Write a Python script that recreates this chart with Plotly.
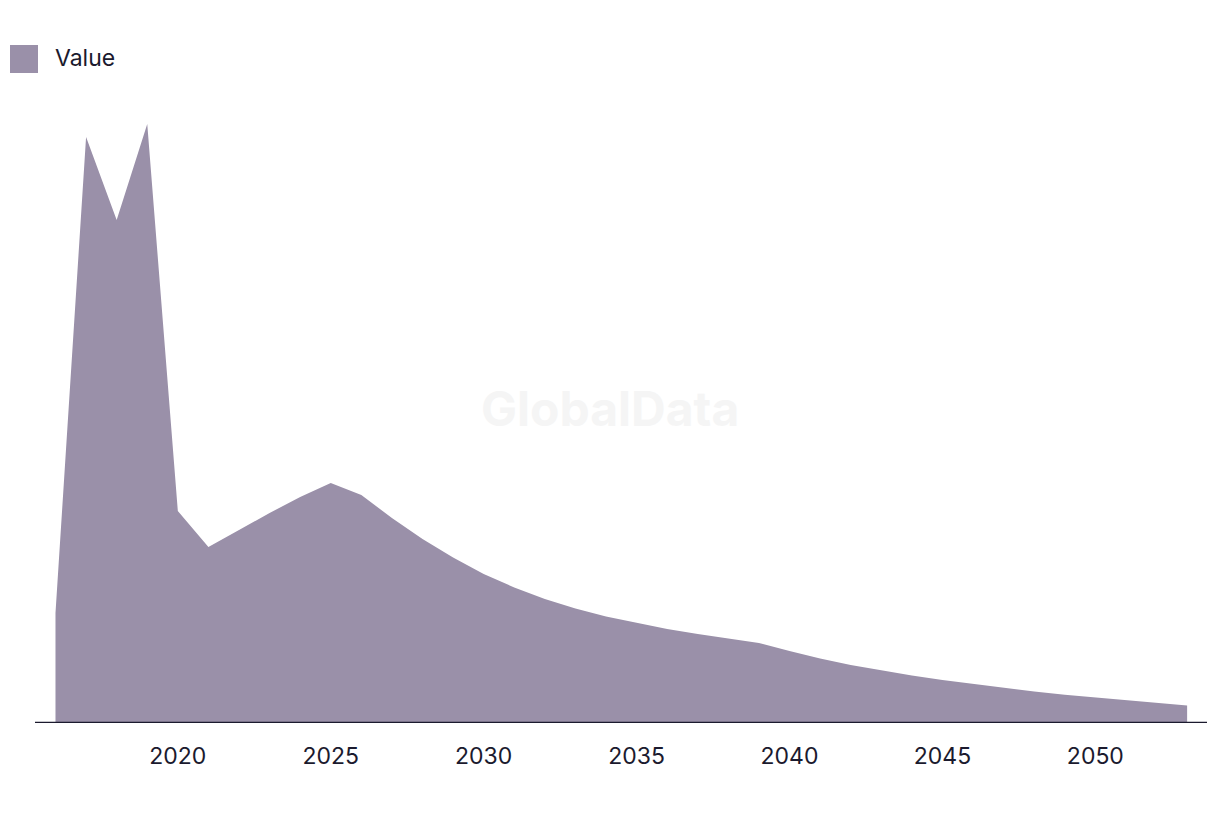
import plotly.graph_objects as go

years = list(range(2016, 2054))
values = [110, 586, 503, 599, 212, 176, 193, 210, 226, 240, 228, 205, 184, 165.5,
          149, 135.5, 124, 114.5, 106.5, 100, 94, 89, 84.5, 80, 72, 64.5, 58, 52.5, 47.5, 43,
          39, 35.2, 31.5, 28.3, 25.5, 22.7, 20.1, 17.6]
series_name = "Value"
tick_vals = [2020, 2025, 2030, 2035, 2040, 2045, 2050]
tick_text = [str(v) for v in tick_vals]

fill_color = "#9a90a9"
text_color = "#1b1a2e"
font_family = "Inter, 'Noto Sans', sans-serif"

fig = go.Figure()
fig.add_trace(go.Scatter(
    x=years, y=values, name=series_name, mode="lines",
    line=dict(width=0, color=fill_color), fill="tozeroy",
    fillcolor=fill_color, showlegend=False, hoverinfo="x+y",
))

W, H = 1220, 814
ml, mr, mt, mb = 35, 13, 100, 91
pw = W - ml - mr

fig.update_layout(
    width=W, height=H,
    margin=dict(l=ml, r=mr, t=mt, b=mb),
    paper_bgcolor="white", plot_bgcolor="white",
    font=dict(family=font_family, size=23, color=text_color),
    xaxis=dict(range=[2015.33, 2053.65], tickvals=tick_vals, ticktext=tick_text,
               showgrid=False, zeroline=False, showline=False, ticks="",
               tickfont=dict(size=23, color=text_color), ticklabelstandoff=17),
    yaxis=dict(range=[0, H - mt - mb], visible=False, showgrid=False, zeroline=False),
    showlegend=False,
)

# baseline axis line
fig.add_shape(type="line", xref="paper", yref="y", x0=0, x1=1, y0=0, y1=0,
              line=dict(color=text_color, width=2.5), layer="above")

# watermark
fig.add_annotation(text="<b>GlobalData</b>", xref="paper", yref="paper",
                   x=(610 - ml) / pw, y=(723 - 408) / (H - mt - mb),
                   showarrow=False, font=dict(size=48, color="#f5f5f5", family=font_family))

# legend
fig.add_shape(type="rect", xref="paper", yref="paper",
              x0=(10 - ml) / pw, x1=(38 - ml) / pw,
              y0=(723 - 73) / (H - mt - mb), y1=(723 - 45) / (H - mt - mb),
              fillcolor=fill_color, line=dict(width=0))
fig.add_annotation(text=series_name, xref="paper", yref="paper",
                   x=(53 - ml) / pw, y=(723 - 58) / (H - mt - mb),
                   xanchor="left", yanchor="middle", showarrow=False,
                   font=dict(size=23, color=text_color, family=font_family))

fig.write_html("out.html")
